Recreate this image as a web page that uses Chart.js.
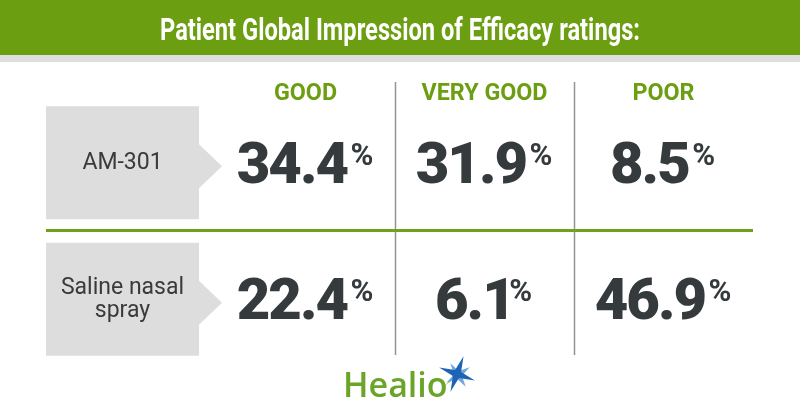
<!DOCTYPE html>
<html>
<head>
<meta charset="utf-8">
<script src="https://cdn.jsdelivr.net/npm/chart.js@4.4.1/dist/chart.umd.min.js"></script>
<style>
  html, body { margin: 0; padding: 0; background: #fff; }
  #chart { display: block; }
</style>
</head>
<body>
<canvas id="chart" width="800" height="420"></canvas>
<script>
const title = 'Patient Global Impression of Efficacy ratings:';
const ratings = ['GOOD', 'VERY GOOD', 'POOR'];
const groups = ['AM-301', 'Saline nasal spray'];
const groupLines = [['AM-301'], ['Saline nasal', 'spray']];
const am301Values = [34.4, 31.9, 8.5];
const salineValues = [22.4, 6.1, 46.9];

const GREEN = '#6b9e10';
const DARK = '#353a3c';
const BOX = '#dddddd';

// squeeze text horizontally to fake a condensed face
function squeezed(ctx, text, cx, baseline, font, sx) {
  ctx.save();
  ctx.font = font;
  ctx.textAlign = 'center';
  ctx.textBaseline = 'alphabetic';
  ctx.translate(cx, baseline);
  ctx.scale(sx, 1);
  ctx.fillText(text, 0, 0);
  ctx.restore();
}

function drawStar(ctx, cx, cy, rOut, rIn, rot, color) {
  ctx.beginPath();
  for (let k = 0; k < 8; k++) {
    const r = k % 2 === 0 ? rOut : rIn;
    const a = rot + k * Math.PI / 4;
    const px = cx + Math.cos(a) * r, py = cy + Math.sin(a) * r;
    k === 0 ? ctx.moveTo(px, py) : ctx.lineTo(px, py);
  }
  ctx.closePath();
  ctx.fillStyle = color;
  ctx.fill();
}

function drawValue(ctx, v, cx, cy) {
  const num = v.toFixed(1);
  ctx.save();
  ctx.fillStyle = DARK;
  ctx.textBaseline = 'alphabetic';
  ctx.textAlign = 'left';
  ctx.letterSpacing = '-2px';
  ctx.font = '900 58px Roboto';
  const m = ctx.measureText(num);
  const inkL = -m.actualBoundingBoxLeft, inkR = m.actualBoundingBoxRight;
  ctx.letterSpacing = '0px';
  ctx.font = 'bold 31px Roboto';
  const wp = ctx.measureText('%').width;
  const gap = 3;
  const total = (inkR - inkL) + gap + wp;
  const x0 = cx - total / 2 - inkL;
  ctx.letterSpacing = '-2px';
  ctx.font = '900 58px Roboto';
  ctx.fillText(num, x0, cy + 20.5);
  ctx.letterSpacing = '0px';
  ctx.font = 'bold 31px Roboto';
  ctx.fillText('%', x0 + inkR + gap, cy + 2.5);
  ctx.restore();
}

const tablePlugin = {
  id: 'table',
  beforeDraw(chart) {
    const { ctx, scales: { x, y } } = chart;
    ctx.save();

    // header band
    ctx.fillStyle = GREEN;
    ctx.fillRect(0, 0, 800, 55);
    ctx.fillStyle = '#dedede';
    ctx.fillRect(0, 55, 800, 7);
    ctx.fillStyle = '#ffffff';
    ctx.font = 'bold 31px Roboto';
    squeezed(ctx, title, 400, 40, 'bold 31px Roboto', 480 / ctx.measureText(title).width);

    // column headings
    ctx.fillStyle = GREEN;
    ctx.font = 'bold 24px Roboto';
    const hs = 126 / ctx.measureText('VERY GOOD').width;
    ratings.forEach((r, i) => squeezed(ctx, r, x.getPixelForValue(i), 100, 'bold 24px Roboto', hs));

    // column dividers
    ctx.strokeStyle = '#939393';
    ctx.lineWidth = 1.5;
    for (let i = 0; i < ratings.length - 1; i++) {
      const bx = Math.round((x.getPixelForValue(i) + x.getPixelForValue(i + 1)) / 2) + 0.5;
      ctx.beginPath();
      ctx.moveTo(bx, 82);
      ctx.lineTo(bx, 355);
      ctx.stroke();
    }

    // row separator
    const sepY = (y.getPixelForValue(0) + y.getPixelForValue(1)) / 2;
    ctx.strokeStyle = '#6ca31a';
    ctx.lineWidth = 3;
    ctx.beginPath();
    ctx.moveTo(46, sepY);
    ctx.lineTo(x.right, sepY);
    ctx.stroke();

    // row label boxes
    groups.forEach((g, j) => {
      const cy = y.getPixelForValue(j);
      const tip = cy + 4;
      ctx.fillStyle = BOX;
      ctx.beginPath();
      ctx.moveTo(46, cy - 56);
      ctx.lineTo(199, cy - 56);
      ctx.lineTo(199, tip - 22);
      ctx.lineTo(222, tip);
      ctx.lineTo(199, tip + 22);
      ctx.lineTo(199, cy + 57);
      ctx.lineTo(46, cy + 57);
      ctx.closePath();
      ctx.fill();

      ctx.fillStyle = '#3a3a3a';
      ctx.font = '23px Roboto';
      ctx.textAlign = 'center';
      ctx.textBaseline = 'middle';
      const lines = groupLines[j];
      lines.forEach((t, k) => {
        ctx.fillText(t, 122.5, cy + 1 + (k - (lines.length - 1) / 2) * 23);
      });
    });

    // logo
    ctx.fillStyle = '#6aa428';
    ctx.font = '600 34px "Open Sans"';
    ctx.textAlign = 'left';
    ctx.textBaseline = 'alphabetic';
    ctx.fillText('Healio', 343, 397);
    ctx.fillStyle = '#7cb342';
    ctx.beginPath();
    ctx.moveTo(457, 376);
    ctx.lineTo(441, 388);
    ctx.lineTo(453, 380);
    ctx.closePath();
    ctx.fill();
    drawStar(ctx, 458, 375, 14, 4, Math.PI / 4 + 0.2, '#6fa8dc');
    drawStar(ctx, 457, 374, 19, 4.5, -Math.PI / 2 + 0.35, '#1f63b4');

    ctx.restore();
  },
  afterDatasetsDraw(chart) {
    const ctx = chart.ctx;
    chart.data.datasets.forEach((ds, d) => {
      chart.getDatasetMeta(d).data.forEach((pt, i) => {
        drawValue(ctx, ds.data[i].v, pt.x, pt.y);
      });
    });
  }
};

const datasets = [am301Values, salineValues].map((vals, j) => ({
  label: groups[j],
  data: vals.map((v, i) => ({ x: ratings[i], y: groups[j], v: v })),
  showLine: false,
  pointRadius: 0,
  pointHoverRadius: 0
}));

new Chart(document.getElementById('chart'), {
  type: 'line',
  data: { datasets: datasets },
  options: {
    responsive: false,
    animation: false,
    events: [],
    layout: { padding: { left: 216, right: 47, top: 94, bottom: 53 } },
    plugins: { legend: { display: false }, tooltip: { enabled: false } },
    scales: {
      x: { type: 'category', labels: ratings, offset: true, display: false },
      y: { type: 'category', labels: groups, offset: true, display: false }
    }
  },
  plugins: [tablePlugin]
});
</script>
</body>
</html>
